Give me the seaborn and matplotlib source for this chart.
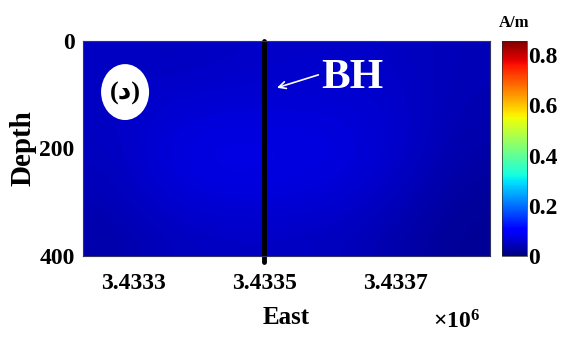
import numpy as np
import matplotlib
matplotlib.use("Agg")
import matplotlib.pyplot as plt
from matplotlib.patches import Ellipse
import seaborn as sns

# ---- data ----
east_pts = [3433224, 3433330, 3433430, 3433530, 3433630, 3433730, 3433843]
depth_pts = [0, 100, 200, 300, 400]
mag_row_0 = [0.052, 0.048, 0.052, 0.056, 0.056, 0.052, 0.042]
mag_row_100 = [0.052, 0.062, 0.066, 0.066, 0.066, 0.057, 0.038]
mag_row_200 = [0.048, 0.072, 0.078, 0.075, 0.073, 0.058, 0.032]
mag_row_300 = [0.042, 0.066, 0.073, 0.071, 0.066, 0.047, 0.022]
mag_row_400 = [0.032, 0.047, 0.052, 0.052, 0.047, 0.032, 0.017]
bh_east = 3433500
x_ticks = [3433300, 3433500, 3433700]
x_tick_labels = ["3.4333", "3.4335", "3.4337"]
y_ticks = [0, 200, 400]
cbar_ticks = [0, 0.2, 0.4, 0.6, 0.8]
cbar_tick_labels = ["0", "0.2", "0.4", "0.6", "0.8"]
vmin, vmax = 0.0, 0.856

sns.set_style("white")
plt.rcParams["font.family"] = ["Liberation Serif", "DejaVu Sans"]
plt.rcParams["font.weight"] = "bold"
plt.rcParams["text.color"] = "black"
plt.rcParams["axes.labelcolor"] = "black"
plt.rcParams["xtick.color"] = "black"
plt.rcParams["ytick.color"] = "black"
plt.rcParams["mathtext.fontset"] = "custom"
plt.rcParams["mathtext.rm"] = "Liberation Serif"
plt.rcParams["mathtext.it"] = "Liberation Serif"

grid = np.array([mag_row_0, mag_row_100, mag_row_200, mag_row_300, mag_row_400])

fig = plt.figure(figsize=(5.69, 3.38), dpi=100)
ax = fig.add_axes([83/569, (338-256)/338, 407/569, 215/338])
cax = fig.add_axes([502/569, (338-256)/338, 25/569, 215/338])

im = ax.imshow(grid, cmap="jet", vmin=vmin, vmax=vmax, aspect="auto",
               interpolation="bicubic",
               extent=[east_pts[0], east_pts[-1], depth_pts[-1], depth_pts[0]])
ax.set_xlim(east_pts[0], east_pts[-1])
ax.set_ylim(depth_pts[-1], depth_pts[0])

ax.axvline(bh_east, ymin=-0.03, ymax=1, color="black", lw=3.5, clip_on=False)

ax.set_xticks(x_ticks)
ax.set_xticklabels(x_tick_labels)
ax.set_yticks(y_ticks)
ax.tick_params(axis="both", length=0, labelsize=17, colors="black")
ax.tick_params(axis="x", pad=12)
ax.tick_params(axis="y", pad=6)
for lab in ax.get_xticklabels() + ax.get_yticklabels():
    lab.set_fontweight("bold")
for s in ax.spines.values():
    s.set_linewidth(0.8)
    s.set_color("#333366")

ax.set_xlabel("East", fontsize=18, fontweight="bold", labelpad=9, color="black")
ax.set_ylabel("Depth", fontsize=21, fontweight="bold", labelpad=2, color="black")

# annotation BH
ax.annotate("", xy=(3433519, 87), xytext=(3433582, 63),
            arrowprops=dict(arrowstyle="->,head_length=0.5,head_width=0.25",
                            color="white", lw=1.2, shrinkA=0, shrinkB=0))
ax.text(3433586, 68, "BH", color="white", fontsize=31, fontweight="bold",
        va="center", ha="left")

# circle label
ell = Ellipse((3433288, 95), width=73, height=104, facecolor="white",
              edgecolor="none", transform=ax.transData, zorder=3)
ax.add_patch(ell)
ax.text(3433288, 97, "(د)", fontsize=19, fontweight="bold", color="black",
        ha="center", va="center", zorder=4,
        family=["Liberation Serif", "DejaVu Sans"])

# colorbar
cb = fig.colorbar(im, cax=cax, ticks=cbar_ticks)
cb.ax.set_yticklabels(cbar_tick_labels)
cb.ax.tick_params(length=0, labelsize=17, pad=1, colors="black")
for lab in cb.ax.get_yticklabels():
    lab.set_fontweight("bold")
cb.outline.set_linewidth(0.5)
fig.text(514/569, 1 - 23/338, "A/m", fontsize=12, fontweight="bold",
         ha="center", va="center")

fig.text(457/569, 1 - 322/338, r"$\times10^{6}$", fontsize=17,
         ha="center", va="center")

fig.savefig("out.png", dpi=100)
